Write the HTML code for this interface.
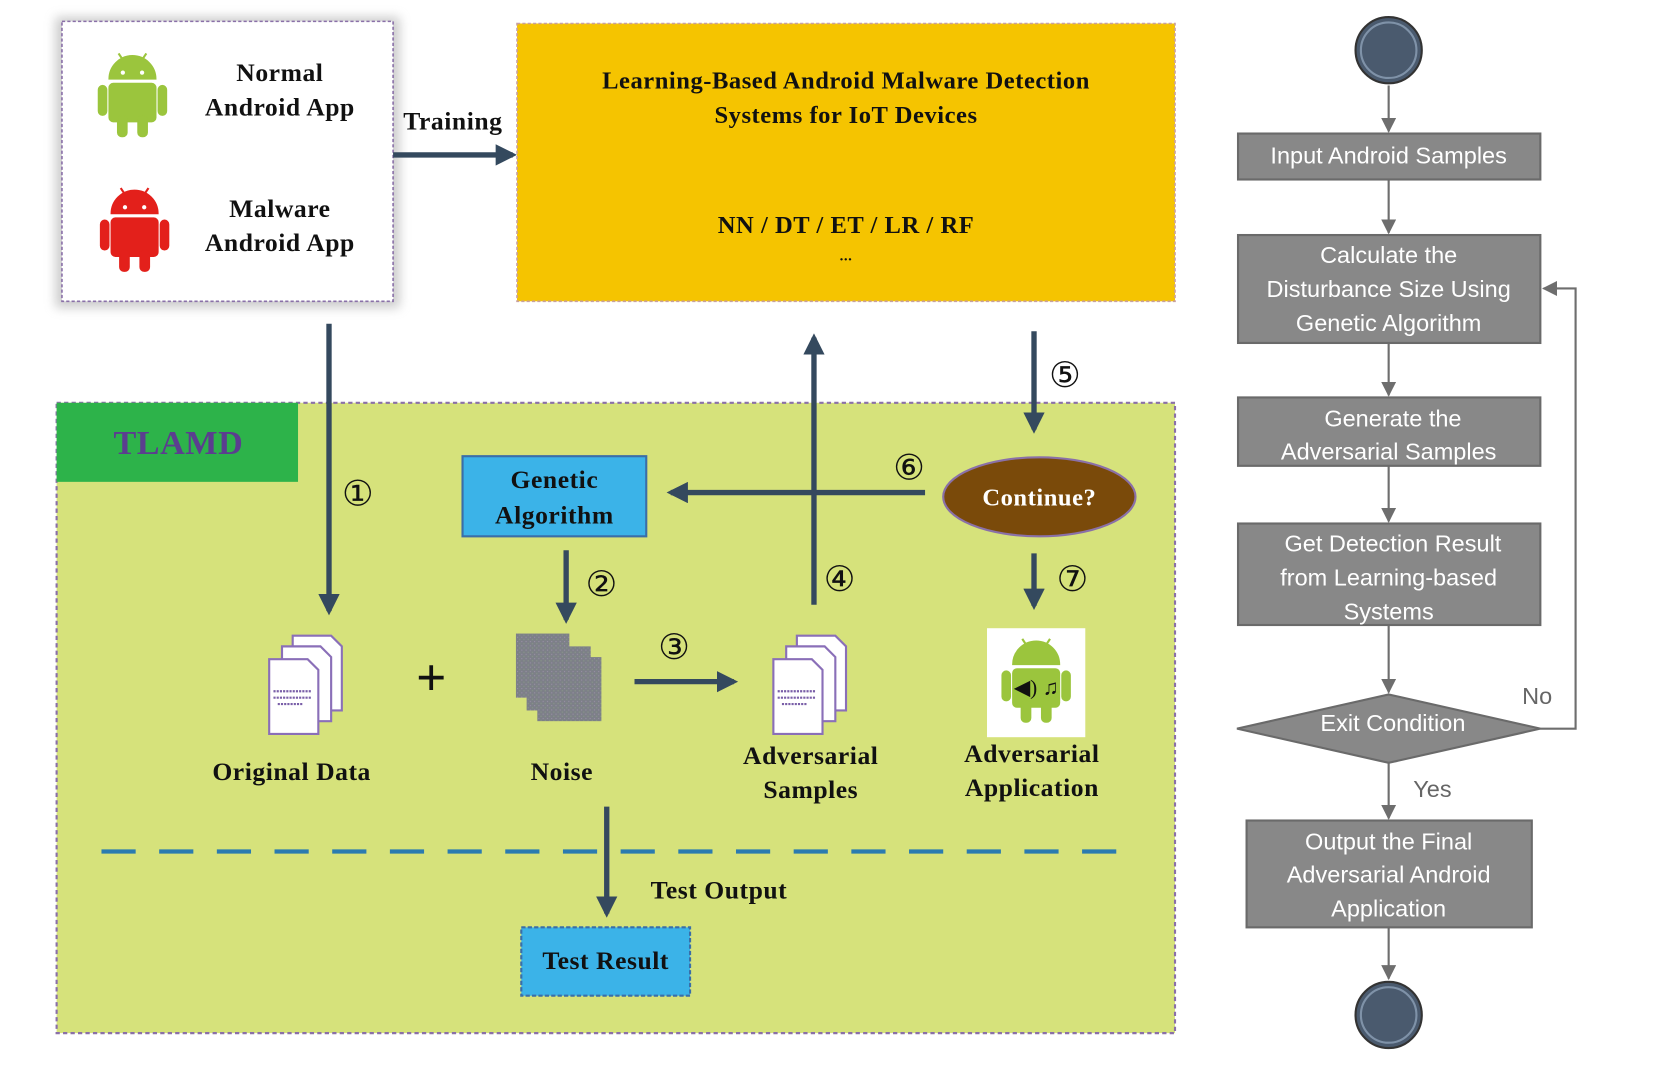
<!DOCTYPE html>
<html><head><meta charset="utf-8"><style>
html,body{margin:0;padding:0;background:#fff;}
svg{display:block;}
.s{font-family:"Liberation Serif",serif;font-weight:bold;fill:#111;letter-spacing:0.5px;}
.f{font-family:"Liberation Sans",sans-serif;fill:#fff;font-size:22px;text-anchor:middle;}
.c{font-family:"DejaVu Sans",sans-serif;font-size:33px;fill:#111;text-anchor:middle;}
</style></head><body>
<svg width="1676" height="1078" viewBox="0 0 1569 1009" preserveAspectRatio="none" xmlns="http://www.w3.org/2000/svg">
<defs>
<marker id="ab" viewBox="0 0 10 10" refX="8" refY="5" markerWidth="4" markerHeight="4" orient="auto"><path d="M0,0L10,5L0,10z" fill="#34495e"/></marker>
<marker id="ag" viewBox="0 0 10 10" refX="9" refY="5" markerWidth="7" markerHeight="7" orient="auto"><path d="M0,0L10,5L0,10z" fill="#6e6e6e"/></marker>
<filter id="sh" x="-10%" y="-10%" width="120%" height="120%"><feGaussianBlur stdDeviation="5"/></filter>
<pattern id="nz" width="4" height="4" patternUnits="userSpaceOnUse"><rect width="4" height="4" fill="#7d8088"/><rect width="1" height="1" fill="#9a8fa8"/><rect x="2" y="2" width="1" height="1" fill="#8a9a88"/></pattern>
<g id="andr">
<path d="M-22,-8 A22,22 0 0 1 22,-8 Z"/>
<rect x="-22" y="-4" width="44" height="36" rx="4"/>
<rect x="-32" y="-2" width="8" height="28" rx="4"/>
<rect x="24" y="-2" width="8" height="28" rx="4"/>
<rect x="-14" y="26" width="9" height="20" rx="4"/>
<rect x="5" y="26" width="9" height="20" rx="4"/>
<line x1="-13" y1="-32" x2="-9" y2="-26" stroke-width="2"/>
<line x1="13" y1="-32" x2="9" y2="-26" stroke-width="2"/>
</g>
<g id="doc">
<path d="M0,0h36l10,10v60h-46z" fill="#fff" stroke="#8a6fb8" stroke-width="2"/>
</g>
<g id="docs">
<use href="#doc" x="22" y="0"/><use href="#doc" x="12" y="10"/><use href="#doc" x="0" y="22"/>
<line x1="4" y1="52" x2="40" y2="52" stroke="#7a5fa8" stroke-width="2" stroke-dasharray="2 1"/>
<line x1="4" y1="58" x2="40" y2="58" stroke="#7a5fa8" stroke-width="2" stroke-dasharray="2 1"/>
<line x1="8" y1="64" x2="32" y2="64" stroke="#7a5fa8" stroke-width="2" stroke-dasharray="2 1"/>
</g>
</defs>

<rect x="52" y="16" width="322" height="272" fill="#999" opacity="0.5" filter="url(#sh)"/>
<rect x="58" y="20" width="310" height="262" fill="#fff" stroke="#8a70a8" stroke-width="1.5" stroke-dasharray="3 2"/>
<g fill="#9bc53d" stroke="#9bc53d" transform="translate(124,82)"><use href="#andr"/></g>
<g fill="#e3201b" stroke="#e3201b" transform="translate(126,208)"><use href="#andr"/></g>
<g fill="#fff"><circle cx="115" cy="68" r="2"/><circle cx="133" cy="68" r="2"/><circle cx="117" cy="194" r="2"/><circle cx="135" cy="194" r="2"/></g>
<text class="s" font-size="24" text-anchor="middle"><tspan x="262" y="76">Normal</tspan><tspan x="262" y="108">Android App</tspan><tspan x="262" y="203">Malware</tspan><tspan x="262" y="235">Android App</tspan></text>
<text class="s" font-size="24" x="424" y="121" text-anchor="middle">Training</text>
<line x1="368" y1="145" x2="480" y2="145" stroke="#34495e" stroke-width="5" marker-end="url(#ab)"/>

<rect x="484" y="22" width="616" height="260" fill="#f5c400" stroke="#c8a0a0" stroke-width="1.5" stroke-dasharray="3 2"/>
<text class="s" font-size="23" text-anchor="middle"><tspan x="792" y="83">Learning-Based Android Malware Detection</tspan><tspan x="792" y="115">Systems for IoT Devices</tspan><tspan x="792" y="218">NN / DT / ET / LR / RF</tspan></text>
<text class="s" font-size="14" x="792" y="244" text-anchor="middle">...</text>

<rect x="53" y="377" width="1047" height="590" fill="#d6e27b" stroke="#8a70a8" stroke-width="2" stroke-dasharray="4 3"/>
<rect x="53" y="377" width="226" height="74" fill="#2db34a"/>
<text class="s" font-size="32" x="167" y="425" text-anchor="middle" style="fill:#5b3e8f">TLAMD</text>

<g stroke="#34495e" stroke-width="5" fill="none">
<line x1="308" y1="303" x2="308" y2="572" marker-end="url(#ab)"/>
<line x1="866" y1="461" x2="628" y2="461" marker-end="url(#ab)"/>
<line x1="762" y1="566" x2="762" y2="316" marker-end="url(#ab)"/>
<line x1="968" y1="310" x2="968" y2="402" marker-end="url(#ab)"/>
<line x1="968" y1="518" x2="968" y2="567" marker-end="url(#ab)"/>
<line x1="530" y1="515" x2="530" y2="580" marker-end="url(#ab)"/>
<line x1="594" y1="638" x2="687" y2="638" marker-end="url(#ab)"/>
<line x1="568" y1="755" x2="568" y2="855" marker-end="url(#ab)"/>
</g>
<g><text x="335" y="473" class="c">①</text><text x="563" y="558" class="c">②</text><text x="631" y="617" class="c">③</text><text x="786" y="553" class="c">④</text><text x="997" y="362" class="c">⑤</text><text x="851" y="449" class="c">⑥</text><text x="1004" y="553" class="c">⑦</text></g>

<rect x="433" y="427" width="172" height="75" fill="#3bb3e8" stroke="#3a6ea8" stroke-width="2"/>
<text class="s" font-size="24" text-anchor="middle"><tspan x="519" y="457">Genetic</tspan><tspan x="519" y="490">Algorithm</tspan></text>

<ellipse cx="973" cy="465" rx="90" ry="37" fill="#7a4a0a" stroke="#8a70a8" stroke-width="2"/>
<text class="s" font-size="23" x="973" y="473" text-anchor="middle" style="fill:#fff">Continue?</text>

<use href="#docs" x="252" y="595"/>
<use href="#docs" x="724" y="595"/>
<text class="s" font-size="50" x="404" y="651" text-anchor="middle">+</text>
<g><rect x="483" y="593" width="50" height="60" fill="url(#nz)"/><rect x="493" y="605" width="60" height="60" fill="url(#nz)"/><rect x="503" y="615" width="60" height="60" fill="url(#nz)"/></g>
<rect x="924" y="588" width="92" height="102" fill="#fff"/>
<g fill="#9bc53d" stroke="#9bc53d" transform="translate(970,630)"><use href="#andr"/></g>
<text x="970" y="650" font-size="20" text-anchor="middle" fill="#111">◀) ♫</text>

<text class="s" font-size="24" text-anchor="middle"><tspan x="273" y="730">Original Data</tspan><tspan x="526" y="730">Noise</tspan><tspan x="759" y="715">Adversarial</tspan><tspan x="759" y="747">Samples</tspan><tspan x="966" y="713">Adversarial</tspan><tspan x="966" y="745">Application</tspan><tspan x="673" y="841">Test Output</tspan></text>

<line x1="95" y1="797" x2="1045" y2="797" stroke="#2b7bb0" stroke-width="4" stroke-dasharray="32 22"/>
<rect x="488" y="868" width="158" height="64" fill="#3bb3e8" stroke="#3a6ea8" stroke-width="2" stroke-dasharray="4 2"/>
<text class="s" font-size="24" x="567" y="907" text-anchor="middle">Test Result</text>

<g stroke="#6e6e6e" stroke-width="2" fill="none">
<line x1="1300" y1="80" x2="1300" y2="123" marker-end="url(#ag)"/>
<line x1="1300" y1="168" x2="1300" y2="218" marker-end="url(#ag)"/>
<line x1="1300" y1="321" x2="1300" y2="370" marker-end="url(#ag)"/>
<line x1="1300" y1="436" x2="1300" y2="488" marker-end="url(#ag)"/>
<line x1="1300" y1="585" x2="1300" y2="648" marker-end="url(#ag)"/>
<line x1="1300" y1="714" x2="1300" y2="766" marker-end="url(#ag)"/>
<line x1="1300" y1="868" x2="1300" y2="916" marker-end="url(#ag)"/>
<polyline points="1442,682 1475,682 1475,270 1445,270" marker-end="url(#ag)"/>
</g>
<g fill="#888" stroke="#6a6a6a" stroke-width="2">
<rect x="1159" y="125" width="283" height="43"/>
<rect x="1159" y="220" width="283" height="101"/>
<rect x="1159" y="372" width="283" height="64"/>
<rect x="1159" y="490" width="283" height="95"/>
<polygon points="1158,682 1300,650 1442,682 1300,714"/>
<rect x="1167" y="768" width="267" height="100"/>
</g>
<circle cx="1300" cy="47" r="31" fill="#4a5a6e" stroke="#333" stroke-width="2"/>
<circle cx="1300" cy="47" r="26" fill="none" stroke="#7f92a8" stroke-width="2"/>
<circle cx="1300" cy="950" r="31" fill="#4a5a6e" stroke="#333" stroke-width="2"/>
<circle cx="1300" cy="950" r="26" fill="none" stroke="#7f92a8" stroke-width="2"/>
<g class="f">
<text x="1300" y="153">Input Android Samples</text>
<text x="1300" y="246">Calculate the</text><text x="1300" y="278">Disturbance Size  Using</text><text x="1300" y="310">Genetic Algorithm</text>
<text x="1304" y="399">Generate the</text><text x="1300" y="430">Adversarial Samples</text>
<text x="1304" y="516">Get Detection Result</text><text x="1300" y="548">from Learning-based</text><text x="1300" y="580">Systems</text>
<text x="1304" y="684">Exit Condition</text>
<text x="1300" y="795">Output the Final</text><text x="1300" y="826">Adversarial Android</text><text x="1300" y="858">Application</text>
</g>
<text x="1439" y="659" font-family="Liberation Sans,sans-serif" font-size="22" fill="#666" text-anchor="middle">No</text>
<text x="1341" y="746" font-family="Liberation Sans,sans-serif" font-size="22" fill="#666" text-anchor="middle">Yes</text>
</svg>
</body></html>
